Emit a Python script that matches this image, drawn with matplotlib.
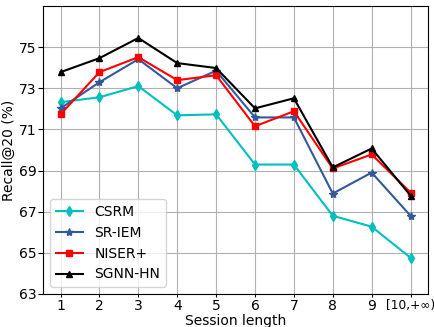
import matplotlib
matplotlib.use("Agg")
import matplotlib.pyplot as plt
import numpy as np

lengths = ["1", "2", "3", "4", "5", "6", "7", "8", "9", "[10,+\u221e)"]
csrm = [72.32, 72.56, 73.10, 71.68, 71.73, 69.29, 69.29, 66.80, 66.27, 64.76]
sriem = [72.02, 73.29, 74.41, 73.00, 73.85, 71.58, 71.58, 67.88, 68.90, 66.80]
niser = [71.73, 73.78, 74.51, 73.39, 73.63, 71.15, 71.88, 69.10, 69.78, 67.93]
sgnn = [73.78, 74.46, 75.44, 74.22, 73.98, 72.02, 72.51, 69.15, 70.07, 67.78]

x = np.arange(1, len(lengths) + 1)

fig, ax = plt.subplots(figsize=(4.35, 3.27), dpi=100)
ax.plot(x, csrm, color="c", marker="d", markersize=5, label="CSRM")
ax.plot(x, sriem, color="#325A9B", marker="*", markersize=6, label="SR-IEM")
ax.plot(x, niser, color="r", marker="s", markersize=5, label="NISER+")
ax.plot(x, sgnn, color="k", marker="^", markersize=5, label="SGNN-HN")

ax.set_ylim(63, 77)
ax.set_yticks([63, 65, 67, 69, 71, 73, 75])
ax.set_xticks(x)
ax.set_xticklabels(lengths)
ax.tick_params(labelsize=10)
ax.tick_params(axis="x", length=2.5, pad=1)
ax.tick_params(axis="y", length=3.5, pad=1)
# the last label is long, keep it inside the figure
ax.get_xticklabels()[-1].set_fontsize(8.8)
ax.grid(True, color="#b0b0b0")
ax.set_xlabel("Session length", fontsize=10, labelpad=1)
ax.set_ylabel("Recall@20 (%)", fontsize=10, labelpad=2)
ax.legend(loc="lower left", fontsize=10)

plt.subplots_adjust(left=0.099, right=0.984, top=0.982, bottom=0.101)
plt.savefig("out.png")
